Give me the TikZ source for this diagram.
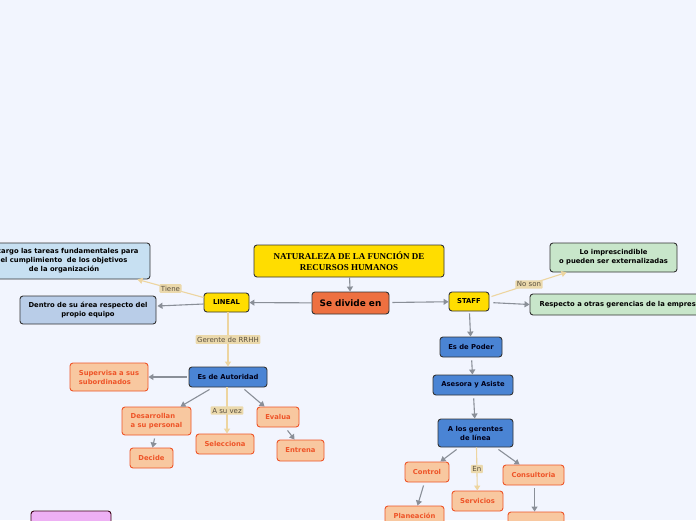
\documentclass[tikz,border=0pt]{standalone}
\usepackage{fontspec}
\setmainfont{DejaVu Sans}
\newfontfamily\titlefont{Liberation Serif}
\usetikzlibrary{arrows.meta,calc}
\definecolor{bgc}{HTML}{F2F5FE}
\definecolor{bord}{HTML}{333333}
\definecolor{yel}{HTML}{FFDD00}
\definecolor{orn}{HTML}{EE7040}
\definecolor{lblue}{HTML}{C7E0F2}
\definecolor{sblue}{HTML}{B9CDE8}
\definecolor{lgreen}{HTML}{C8E6CA}
\definecolor{mblue}{HTML}{4A84D4}
\definecolor{peach}{HTML}{F8C8A0}
\definecolor{redo}{HTML}{EE5428}
\definecolor{pink}{HTML}{EEB0F4}
\definecolor{arrg}{HTML}{8A8F98}
\definecolor{tanl}{HTML}{EDD5A0}
\definecolor{tanf}{HTML}{EBD9AC}
\definecolor{labt}{HTML}{5A5040}
\begin{document}
\begin{tikzpicture}[x=1pt,y=-1pt,
  box/.style={draw=bord, line width=0.9pt, rounded corners=3pt, align=center,
    font=\bfseries\fontsize{6.8}{9}\selectfont, inner sep=1pt, text=black},
  peachbox/.style={box, fill=peach, draw=redo, text=redo},
  bluebox/.style={box, fill=mblue, text={black!90!blue}},
  arr/.style={draw=arrg, line width=1.1pt, -{Triangle[length=5pt,width=6pt]}},
  tanarr/.style={draw=tanl, line width=1.1pt, -{Triangle[length=5pt,width=6pt]}},
  lab/.style={fill=tanf, text=labt, font=\fontsize{7}{8}\selectfont, inner sep=1.6pt, rounded corners=1pt}]
\useasboundingbox (0,0) rectangle (696,520);
\fill[bgc] (0,0) rectangle (696,520);
\clip (0,0) rectangle (696,520);

% nodes
\node[box, fill=yel, minimum width=190pt, minimum height=32pt, font=\titlefont\bfseries\fontsize{9}{10.5}\selectfont] (title) at (349,261) {NATURALEZA DE LA FUNCIÓN DE\\RECURSOS HUMANOS};
\node[box, fill=orn, minimum width=77pt, minimum height=22pt, font=\bfseries\fontsize{8.9}{10}\selectfont] (sedivide) at (350.5,303) {Se divide en};
\node[box, fill=yel, minimum width=45pt, minimum height=19pt] (lineal) at (226.5,302.5) {LINEAL};
\node[box, fill=yel, minimum width=40pt, minimum height=19pt] (staff) at (469,301.5) {STAFF};
\node[box, fill=lblue, minimum width=172pt, minimum height=36pt] (cargo) at (64,261) {A cargo las tareas fundamentales para\\el cumplimiento\ \ de los objetivos\\de la organización};
\node[box, fill=sblue, minimum width=136pt, minimum height=28pt] (dentro) at (88,310) {Dentro de su área respecto del\\propio equipo};
\node[box, fill=lgreen, minimum width=127pt, minimum height=29pt] (impres) at (613.5,257.5) {Lo imprescindible\\o pueden ser externalizadas};
\node[box, fill=lgreen, minimum width=180pt, minimum height=21pt] (respecto) at (620,304.5) {Respecto a otras gerencias de la empresa};

\node[bluebox, minimum width=78pt, minimum height=20pt] (autoridad) at (228,377) {Es de Autoridad};
\node[peachbox, minimum width=78pt, minimum height=28pt, align=left] (supervisa) at (109,377) {Supervisa a sus\\subordinados};
\node[peachbox, minimum width=69pt, minimum height=28pt, align=left] (desarrollan) at (156.5,421) {Desarrollan\\a su personal};
\node[peachbox, minimum width=58pt, minimum height=20pt] (selecciona) at (225,444) {Selecciona};
\node[peachbox, minimum width=42pt, minimum height=20pt] (evalua) at (278,417) {Evalua};
\node[peachbox, minimum width=47pt, minimum height=21pt] (entrena) at (300.5,450.5) {Entrena};
\node[peachbox, minimum width=43pt, minimum height=20pt] (decide) at (151.5,458) {Decide};

\node[bluebox, minimum width=62pt, minimum height=20pt] (poder) at (471,347) {Es de Poder};
\node[bluebox, minimum width=80pt, minimum height=20pt] (asesora) at (473,385) {Asesora y Asiste};
\node[bluebox, minimum width=75pt, minimum height=28pt] (gerentes) at (475.5,433) {A los gerentes\\de línea};
\node[peachbox, minimum width=44pt, minimum height=20pt] (control) at (427,472) {Control};
\node[peachbox, minimum width=51pt, minimum height=20pt] (servicios) at (477.5,501) {Servicios};
\node[peachbox, minimum width=61pt, minimum height=20pt] (consultoria) at (533.5,475) {Consultoria};
\node[peachbox, minimum width=59pt, minimum height=20pt] (planeacion) at (414.5,516) {Planeación};
\node[peachbox, minimum width=56pt, minimum height=20pt] (bottomc) at (536,522) {};
\node[box, fill=pink, draw={black!70!purple}, minimum width=80pt, minimum height=20pt] (pinkn) at (71,521) {};

% connectors
\draw[arr] (title) -- (sedivide);
\draw[arr] (sedivide) -- (lineal);
\draw[arr, shorten <=3pt] (sedivide) -- (staff);
\draw[arr] ($(lineal.west)+(0,1.5)$) -- ($(dentro.east)+(1,-4)$);
\draw[arr, shorten <=2pt] (autoridad) -- (supervisa);
\draw[arr] ($(autoridad.south west)+(21,2)$) -- ($(desarrollan.north east)+(-11,0)$);
\draw[arr] ($(autoridad.south east)+(-23,2)$) -- ($(evalua.north west)+(8,0)$);
\draw[arr] ($(evalua.south west)+(31,3)$) -- ($(entrena.north west)+(18,0)$);
\draw[arr] ($(desarrollan.south west)+(33,3)$) -- ($(decide.north west)+(23,0)$);
\draw[arr, shorten <=2pt] (staff) -- (poder);
\draw[arr, shorten <=3pt] (poder) -- (asesora);
\draw[arr, shorten <=3pt] (asesora) -- (gerentes);
\draw[arr] ($(gerentes.south west)+(19,2)$) -- ($(control.north east)+(-9,0)$);
\draw[arr] ($(gerentes.south east)+(-15,2)$) -- ($(consultoria.north west)+(17,0)$);
\draw[arr] ($(control.south west)+(19,3)$) -- ($(planeacion.north west)+(33,0)$);
\draw[arr] ($(consultoria.south west)+(32,3)$) -- ($(bottomc.north west)+(27,0)$);
\draw[arr, shorten <=4pt] (staff) -- (respecto.west);

\draw[tanarr] ($(lineal.west)+(0,-5)$) -- node[lab]{Tiene} ($(cargo.south east)+(-13,0)$);
\draw[tanarr] ($(staff.east)+(2,-5)$) -- node[lab]{No son} ($(impres.south west)+(17,0)$);
\draw[tanarr] ($(lineal.south)+(1.5,0)$) -- node[lab]{Gerente de RRHH} (autoridad);
\draw[tanarr] ($(autoridad.south)+(-1,0)$) -- node[lab]{A su vez} ($(selecciona.north)+(2,0)$);
\draw[tanarr] ($(gerentes.south)+(1,0)$) -- node[lab]{En} (servicios);
\end{tikzpicture}
\end{document}
